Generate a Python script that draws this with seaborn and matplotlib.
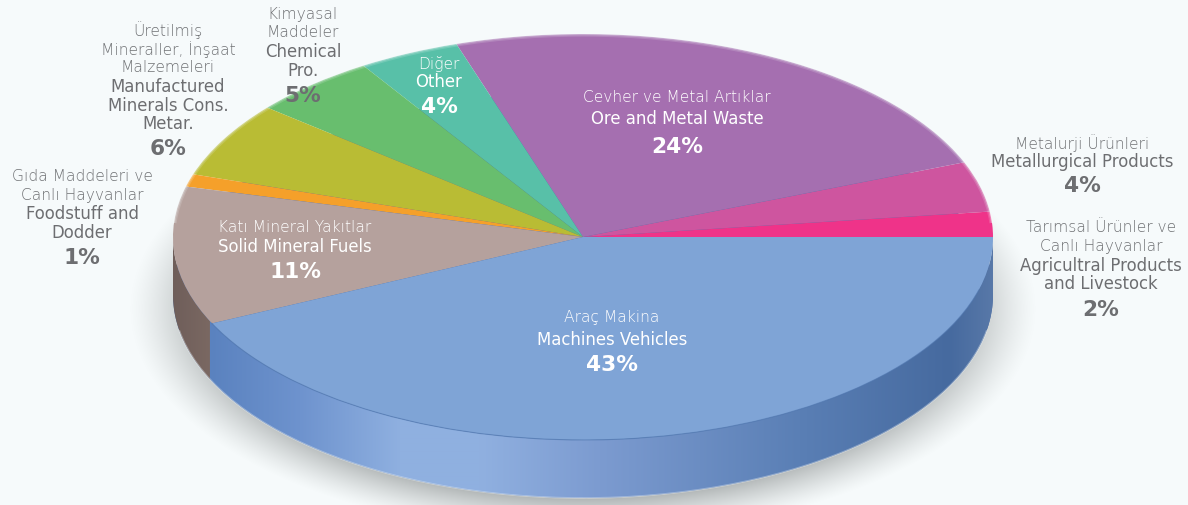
import numpy as np
import matplotlib
matplotlib.use("Agg")
import matplotlib.pyplot as plt
from matplotlib.patches import Arc, PathPatch
from matplotlib.path import Path
from matplotlib.colors import LinearSegmentedColormap, to_rgb
import seaborn as sns

# ---- data (counter-clockwise from 3 o'clock) ----
labels_tr = ["Tarımsal Ürünler ve\nCanlı Hayvanlar", "Metalurji Ürünleri",
             "Cevher ve Metal Artıklar", "Diğer", "Kimyasal\nMaddeler",
             "Üretilmiş\nMineraller, İnşaat\nMalzemeleri",
             "Gıda Maddeleri ve\nCanlı Hayvanlar", "Katı Mineral Yakıtlar", "Araç Makina"]
labels_en = ["Agricultral Products\nand Livestock", "Metallurgical Products",
             "Ore and Metal Waste", "Other", "Chemical\nPro.",
             "Manufactured\nMinerals Cons.\nMetar.",
             "Foodstuff and\nDodder", "Solid Mineral Fuels", "Machines Vehicles"]
values = [2, 4, 24, 4, 5, 6, 1, 11, 43]

slice_colors = ["#EF3389", "#CE559F", "#A56FB0", "#58C0A8", "#68BE6E",
                "#B9BC34", "#F5A02A", "#B5A19D", "#7FA4D6"]
side_stops = [(172, "#6F5E5A"), (209, "#7A6862"), (210, "#5A82BF"), (300, "#6E93CE"),
              (400, "#8FB0E0"), (480, "#90B0E0"), (600, "#7C9BD0"), (800, "#5A7FB5"),
              (950, "#466A9F"), (993, "#5878A8")]

# ---- layout (pixels of the 1188x506 canvas) ----
W, H = 1188, 506
CX, CY, RX, RY = 583, 238, 410, 203
DEPTH = 58
BG = "#F6FAFB"
label_layout = [  # centre x, line centre ys, inside the disc
    (1101, [228, 247, 266, 284, 310], False),
    (1082, [143, 162, 186], False),
    (677, [98, 119, 147], True),
    (439, [64, 82, 107], True),
    (303, [15, 33, 52, 71, 96], False),
    (168, [30, 50, 68, 87, 106, 124, 149], False),
    (82, [177, 196, 214, 233, 258], False),
    (295, [228, 247, 272], True),
    (612, [318, 340, 365], True),
]

sns.set_theme(style="white")
plt.rcParams["font.family"] = ["DejaVu Sans"]

fig = plt.figure(figsize=(W / 100, H / 100), dpi=100, facecolor=BG)
ax = fig.add_axes([0, 0, 1, 1], facecolor=BG)


def X(px):
    return (np.asarray(px, dtype=float) - CX) / RX


def Y(py):
    return (CY - np.asarray(py, dtype=float)) / RY


# smooth drop shadow: distance to an ellipse below the disc
gx, gy = np.meshgrid(np.arange(W) + 0.5, np.arange(H) + 0.5)
dist = np.hypot((gx - CX) / (RX - 4), (gy - (CY + DEPTH + 14)) / RY)
fade = np.clip((1.0 + 24 / RY - dist) / (40 / RY), 0, 1)
shadow = np.zeros((H, W, 4))
shadow[..., :3] = to_rgb("#8F9494")
shadow[..., 3] = 0.72 * fade ** 1.3
ax.imshow(shadow, extent=(X(0), X(W), Y(H), Y(0)), aspect="auto", zorder=1, interpolation="bilinear")

# lower disc
ax.pie(values, colors=["#4A6CA5"] * len(values), startangle=0, counterclock=True, radius=1,
       center=(0, Y(CY + DEPTH)), wedgeprops=dict(linewidth=0, zorder=2), normalize=True)

# side wall: horizontal gradient clipped to the band between both rims
t = np.linspace(np.pi, 2 * np.pi, 240)
xs = np.cos(t)
band = np.r_[np.c_[xs, np.sin(t) + Y(CY + DEPTH)], np.c_[xs[::-1], np.sin(t)[::-1]]]
band = np.r_[band, band[:1]]
clip = PathPatch(Path(band), transform=ax.transData, fc="none", ec="none", zorder=3)
ax.add_patch(clip)
pos = [(p - 172) / (993 - 172) for p, _ in side_stops]
cmap = LinearSegmentedColormap.from_list("side", list(zip(pos, [c for _, c in side_stops])), N=821)
im = ax.imshow(np.linspace(0, 1, 821)[None, :], cmap=cmap, vmin=0, vmax=1,
               extent=(X(172), X(993), Y(CY + DEPTH + RY + 2), Y(CY - 2)),
               aspect="auto", zorder=3, interpolation="bilinear")
im.set_clip_path(clip)

# top surface
ax.pie(values, colors=sns.color_palette(slice_colors), startangle=0, counterclock=True,
       radius=1, center=(0, 0), wedgeprops=dict(linewidth=0, zorder=4), normalize=True)

# soft rim on the upper edge, darker seam on the front edge
for lw, a in [(5, 0.16), (3, 0.28), (1.4, 0.4)]:
    ax.add_patch(Arc((0, 0), 2.004, 2.008, theta1=4, theta2=176, color=BG, lw=lw, alpha=a, zorder=5))
ax.add_patch(Arc((0, 0), 2, 2, theta1=205, theta2=345, color="#4F76AE", lw=0.8, alpha=0.6, zorder=5))
ax.add_patch(Arc((0, Y(CY + DEPTH)), 2.0, 2.0, theta1=190, theta2=350, color=BG, lw=1.2,
                 alpha=0.35, zorder=5))

ax.set_aspect("auto")
ax.set_xlim(X(0), X(W))
ax.set_ylim(Y(H), Y(0))
ax.axis("off")

# labels
for tr, en, v, (cx, ys, inside) in zip(labels_tr, labels_en, values, label_layout):
    tr_lines, en_lines = tr.split("\n"), en.split("\n")
    lines = tr_lines + en_lines + [f"{v}%"]
    for j, (line, y) in enumerate(zip(lines, ys)):
        is_pct = j == len(lines) - 1
        is_en = len(tr_lines) <= j < len(lines) - 1
        if inside:
            col = "#FFFFFF"
        else:
            col = "#6D6E71" if is_pct or is_en else "#6F7174"
        ax.text(X(cx), Y(y), line, ha="center", va="center", color=col, zorder=10,
                fontsize=15.6 if is_pct else (11.9 if is_en else 11.2),
                fontweight="bold" if is_pct else ("normal" if is_en else 200),
                fontfamily="DejaVu Sans")

fig.savefig("out.png", dpi=100, facecolor=BG)
